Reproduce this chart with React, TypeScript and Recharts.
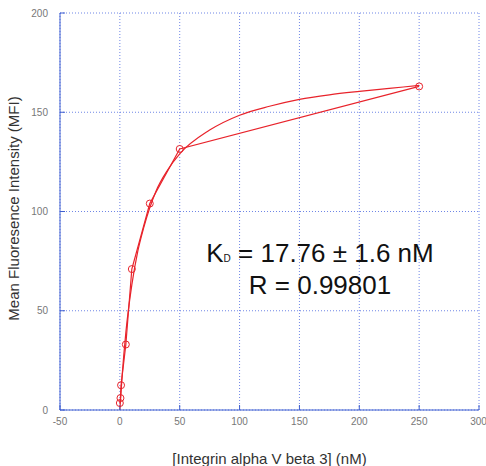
import { ComposedChart, Line, XAxis, YAxis, CartesianGrid } from 'recharts';

// measured binding data
const concentrations = [0, 0.5, 1, 5, 10, 25, 50, 250];
const mfi = [3.5, 6, 12.5, 33, 71, 104, 131.5, 163];

// fitted saturation curve
const fitX = [0, 2, 5, 10, 15, 20, 30, 40, 50, 75, 100, 125, 150, 175, 200, 225, 250];
const fitY = [0, 18, 39, 63, 80, 92, 110, 121, 129, 141, 148.5, 153, 156.5, 158.8, 160.5, 162, 163.5];

const xTicks = [-50, 0, 50, 100, 150, 200, 250, 300];
const yTicks = [0, 50, 100, 150, 200];

const measured = concentrations.map((x, i) => ({ x, y: mfi[i] }));
const fit = fitX.map((x, i) => ({ x, y: fitY[i] }));

const frame = '#3f5fd0';
const red = '#e8232b';
const font = 'Liberation Sans, Arial, sans-serif';
const tickStyle = { fontSize: 10, fill: '#777', fontFamily: font };

export default function App() {
  return (
    <div style={{ position: 'absolute', left: 0, top: 0, width: 486, height: 466, background: '#fff' }}>
      <ComposedChart width={486} height={466} margin={{ top: 13, right: 7, bottom: 0, left: 0 }}>
        <CartesianGrid stroke="#6f86e6" strokeDasharray="1 2" xAxisId="b" yAxisId="l" />
        <XAxis
          xAxisId="b"
          type="number"
          dataKey="x"
          domain={[-50, 300]}
          ticks={xTicks}
          height={56}
          stroke={frame}
          tickSize={-5}
          tickMargin={13}
          tick={tickStyle}
          label={{
            value: '[Integrin alpha V beta 3] (nM)',
            position: 'insideBottom',
            offset: 2,
            style: { fontSize: 15, fill: '#333', fontFamily: font },
          }}
        />
        <XAxis xAxisId="t" type="number" dataKey="x" orientation="top" domain={[-50, 300]} ticks={xTicks} height={0} stroke={frame} tickSize={-5} tick={false} />
        <YAxis
          yAxisId="l"
          type="number"
          domain={[0, 200]}
          ticks={yTicks}
          width={60}
          stroke={frame}
          tickSize={-5}
          tickMargin={17}
          tick={tickStyle}
          label={{
            value: 'Mean Fluoresence Intensity (MFI)',
            angle: -90,
            position: 'insideLeft',
            offset: 14,
            dy: -3,
            style: { fontSize: 15, fill: '#333', textAnchor: 'middle', fontFamily: font },
          }}
        />
        <YAxis yAxisId="r" type="number" orientation="right" domain={[0, 200]} ticks={yTicks} width={0} stroke={frame} tickSize={-5} tick={false} />
        <Line
          xAxisId="b"
          yAxisId="l"
          data={fit}
          dataKey="y"
          type="monotone"
          stroke={red}
          strokeWidth={1.2}
          dot={false}
          isAnimationActive={false}
        />
        <Line
          xAxisId="b"
          yAxisId="l"
          data={measured}
          dataKey="y"
          type="linear"
          stroke={red}
          strokeWidth={1.2}
          dot={{ r: 3.5, stroke: red, strokeWidth: 1, fill: 'none' }}
          isAnimationActive={false}
        />
      </ComposedChart>
      <svg width={486} height={466} style={{ position: 'absolute', left: 0, top: 0, pointerEvents: 'none' }}>
        <text x={320} y={262} textAnchor="middle" fontSize={26} fill="#111" fontFamily={font}>
          K<tspan fontSize={10}>D</tspan> = 17.76 ± 1.6 nM
        </text>
        <text x={320} y={294} textAnchor="middle" fontSize={26} fill="#111" fontFamily={font}>
          R = 0.99801
        </text>
      </svg>
    </div>
  );
}
